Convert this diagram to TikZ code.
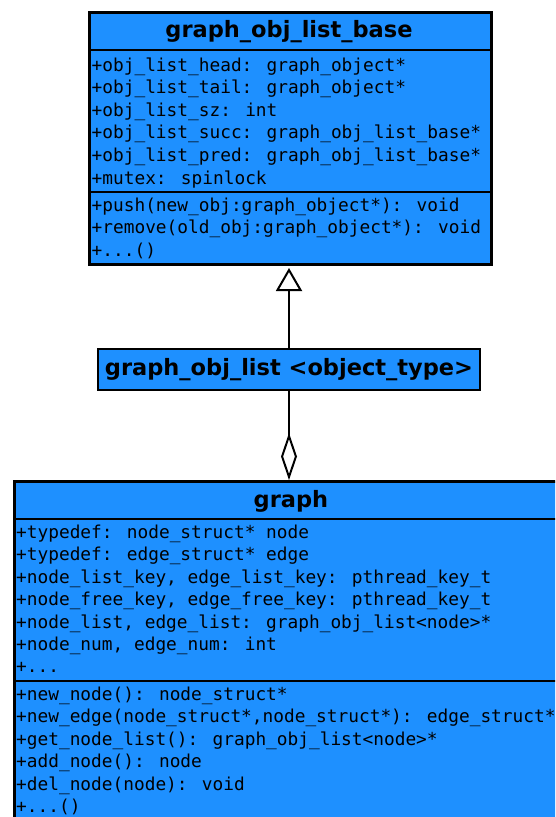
\documentclass[tikz,border=0pt]{standalone}
\usepackage{fontspec}
\setmainfont{DejaVu Sans}
\newfontfamily\umlmono{DejaVu Sans Mono}
\usetikzlibrary{arrows.meta}
\definecolor{umlblue}{RGB}{30,144,255}
\begin{document}
\begin{tikzpicture}[x=1pt,y=-1pt,
  box/.style={draw=black, line width=2.5pt, fill=umlblue, inner sep=0pt, anchor=north west},
  divider/.style={line width=2.5pt},
  ttl/.style={font=\fontsize{22.5}{26}\selectfont\bfseries, inner sep=0pt, anchor=base},
  mem/.style={font=\umlmono\fontsize{17.8}{22}\selectfont, inner sep=0pt, anchor=base west},
  conn/.style={line width=2pt}]
\useasboundingbox (0,0) rectangle (555,817);
\clip (0,0) rectangle (555,817);
\fill[white] (0,0) rectangle (555,817);

% base class
\node[box, minimum width=402pt, minimum height=252pt] (base) at (88,11) {};
\draw[divider] (base.west |- 0,50) -- (base.east |- 0,50);
\draw[divider] (base.west |- 0,192) -- (base.east |- 0,192);
\node[ttl] (basetitle) at (289,37.5) {graph\_obj\_list\_base};
\node[mem] (ba1) at (91.5,71) {+obj\_list\_head: graph\_object*};
\node[mem] (ba2) at (91.5,93.6) {+obj\_list\_tail: graph\_object*};
\node[mem] (ba3) at (91.5,116.2) {+obj\_list\_sz: int};
\node[mem] (ba4) at (91.5,138.8) {+obj\_list\_succ: graph\_obj\_list\_base*};
\node[mem] (ba5) at (91.5,161.4) {+obj\_list\_pred: graph\_obj\_list\_base*};
\node[mem] (ba6) at (91.5,184) {+mutex: spinlock};
\node[mem] (bm1) at (91.5,211) {+push(new\_obj:graph\_object*): void};
\node[mem] (bm2) at (91.5,233.6) {+remove(old\_obj:graph\_object*): void};
\node[mem] (bm3) at (91.5,256.2) {+...()};

% template class
\node[draw=black, line width=2.5pt, fill=umlblue, minimum width=382pt, minimum height=41pt,
      inner sep=0pt, font=\fontsize{22.5}{26}\selectfont\bfseries] (mid) at (289,369.5)
      {graph\_obj\_list <object\_type>};

% graph class
\node[box, minimum width=556pt, minimum height=380pt] (graph) at (13,480) {};
\draw[divider] (graph.west |- 0,519) -- (graph.east |- 0,519);
\draw[divider] (graph.west |- 0,681) -- (graph.east |- 0,681);
\node[ttl] (graphtitle) at (291,507) {graph};
\node[mem] (ga1) at (16,538.5) {+typedef: node\_struct* node};
\node[mem] (ga2) at (16,560.9) {+typedef: edge\_struct* edge};
\node[mem] (ga3) at (16,583.3) {+node\_list\_key, edge\_list\_key: pthread\_key\_t};
\node[mem] (ga4) at (16,605.7) {+node\_free\_key, edge\_free\_key: pthread\_key\_t};
\node[mem] (ga5) at (16,628.1) {+node\_list, edge\_list: graph\_obj\_list<node>*};
\node[mem] (ga6) at (16,650.5) {+node\_num, edge\_num: int};
\node[mem] (ga7) at (16,672.9) {+...};
\node[mem] (gm1) at (16,700.5) {+new\_node(): node\_struct*};
\node[mem] (gm2) at (16,722.9) {+new\_edge(node\_struct*,node\_struct*): edge\_struct*};
\node[mem] (gm3) at (16,745.3) {+get\_node\_list(): graph\_obj\_list<node>*};
\node[mem] (gm4) at (16,767.7) {+add\_node(): node};
\node[mem] (gm5) at (16,790.1) {+del\_node(node): void};
\node[mem] (gm6) at (16,812.5) {+...()};

% connectors
\draw[conn, shorten >=2.5pt, -{Triangle[open, length=23pt, width=26pt, line width=2pt, fill=white]}]
  (mid.north) -- (mid.north |- base.south);
\draw[conn, -{Diamond[open, length=47pt, width=16pt, line width=2pt, fill=white]}]
  (mid.south) -- (mid.south |- graph.north);
\end{tikzpicture}
\end{document}
